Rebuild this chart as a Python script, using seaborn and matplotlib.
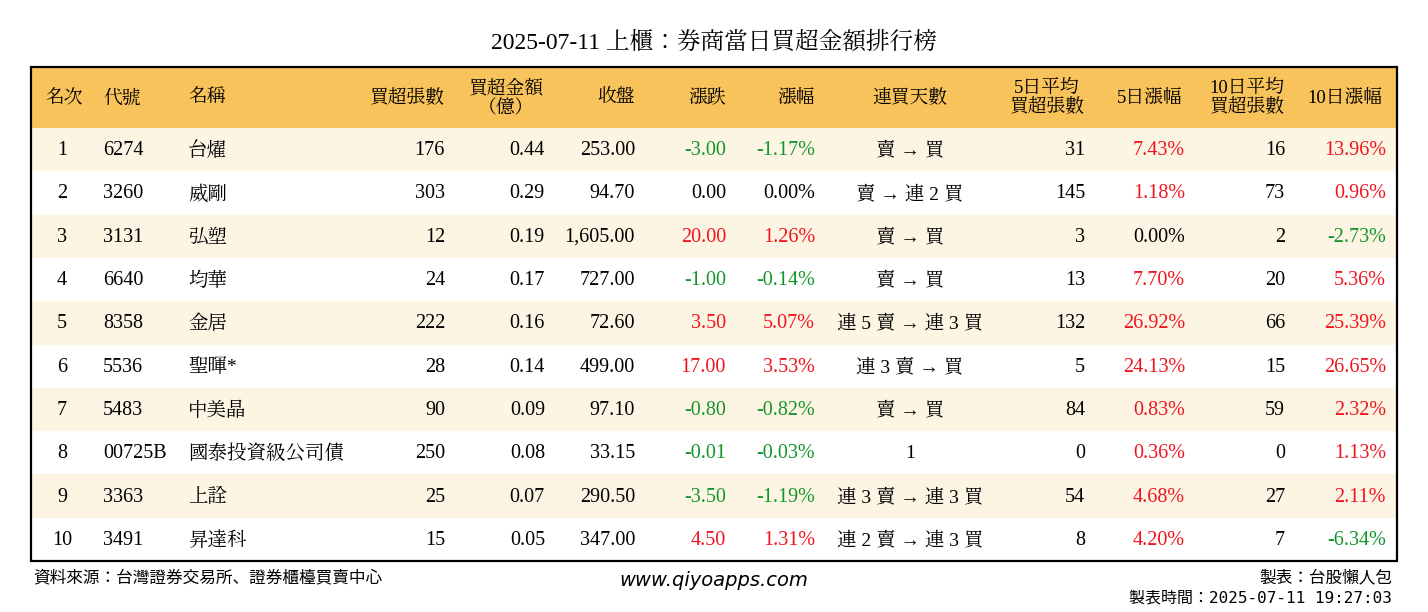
import matplotlib
matplotlib.use("Agg")
import matplotlib.pyplot as plt
import matplotlib.font_manager as fm
import seaborn as sns
import numpy as np
from matplotlib.patches import Rectangle
from matplotlib.colors import ListedColormap

rank = [1,2,3,4,5,6,7,8,9,10]
codes = ["6274","3260","3131","6640","8358","5536","5483","00725B","3363","3491"]
names = ["台燿","威剛","弘塑","均華","金居","聖暉*","中美晶","國泰投資級公司債","上詮","昇達科"]
buy_lots = [176,303,12,24,222,28,90,250,25,15]
buy_amt = [0.44,0.29,0.19,0.17,0.16,0.14,0.09,0.08,0.07,0.05]
close = [253.00,94.70,1605.00,727.00,72.60,499.00,97.10,33.15,290.50,347.00]
change = [-3.00,0.00,20.00,-1.00,3.50,17.00,-0.80,-0.01,-3.50,4.50]
pct = [-1.17,0.00,1.26,-0.14,5.07,3.53,-0.82,-0.03,-1.19,1.31]
streak = ["賣 → 買","賣 → 連 2 買","賣 → 買","賣 → 買","連 5 賣 → 連 3 買","連 3 賣 → 買","賣 → 買","1","連 3 賣 → 連 3 買","連 2 賣 → 連 3 買"]
avg5 = [31,145,3,13,132,5,84,0,54,8]
pct5 = [7.43,1.18,0.00,7.70,26.92,24.13,0.83,0.36,4.68,4.20]
avg10 = [16,73,2,20,66,15,59,0,27,7]
pct10 = [13.96,0.96,-2.73,5.36,25.39,26.65,2.32,1.13,2.11,-6.34]

def reg(path, fallback):
    try:
        fm.fontManager.addfont(path)
        return fm.FontProperties(fname=path).get_name()
    except Exception:
        return fallback
SERIF_CJK = reg("/usr/share/fonts/opentype/noto/NotoSerifCJK-Regular.ttc", "Noto Sans CJK TC")
SANS_CJK = reg("/usr/share/fonts/opentype/noto/NotoSansCJK-Regular.ttc", "Noto Sans CJK TC")

W, H = 1428, 612
FONT = ["Liberation Serif", SERIF_CJK]
MONO = ["DejaVu Sans Mono", SANS_CJK]
fig = plt.figure(figsize=(W/100, H/100), dpi=100)
fig.patch.set_facecolor("white")

L, R, T0, HB, B = 31, 1397, 67, 128, 561
axh = fig.add_axes([L/W, 1-B/H, (R-L)/W, (B-HB)/H])
stripe = np.array([[1 if i % 2 == 0 else 0] for i in range(10)])
sns.heatmap(stripe, ax=axh, cmap=ListedColormap(["#ffffff", "#fdf5e3"]), cbar=False,
            xticklabels=False, yticklabels=False, linewidths=0)
axh.set_axis_off()

ax = fig.add_axes([0, 0, 1, 1])
ax.set_xlim(0, W); ax.set_ylim(H, 0); ax.set_axis_off(); ax.patch.set_alpha(0)
ax.add_patch(Rectangle((L, T0), R-L, HB-T0, facecolor="#f9c35c", edgecolor="none"))
ax.add_patch(Rectangle((L, T0), R-L, B-T0, facecolor="none", edgecolor="black", lw=1.6))

ax.text(W/2, 43, "2025-07-11 上櫃：券商當日買超金額排行榜", ha="center", va="center", fontsize=17, family=FONT)

hy = (T0+HB)/2 + 1
hs = 13.5
heads = [(45,"名次","left"),(103,"代號","left"),(188,"名稱","left"),(445,"買超張數","right"),
         (506,"買超金額\n（億）","center"),(635,"收盤","right"),(707,"漲跌","center"),(796,"漲幅","center"),
         (910,"連買天數","center"),(1047,"5日平均\n買超張數","center"),(1150,"5日漲幅","center"),
         (1247,"10日平均\n買超張數","center"),(1345,"10日漲幅","center")]
for x, t, a in heads:
    ax.text(x, hy, t, ha=a, va="center", fontsize=hs, family=FONT, linespacing=1.1)

GREEN, RED = "#14952b", "#f0141e"
def col(v):
    return RED if v > 0 else (GREEN if v < 0 else "black")

rh = (B-HB)/10
fs = 14.5
for i in range(10):
    y = HB + rh*(i+0.5) + 1
    ax.text(62, y, str(rank[i]), ha="center", va="center", fontsize=fs, family=FONT)
    ax.text(103, y, codes[i], ha="left", va="center", fontsize=fs, family=FONT)
    ax.text(188, y, names[i], ha="left", va="center", fontsize=fs-0.5, family=FONT)
    ax.text(445, y, f"{buy_lots[i]:,}", ha="right", va="center", fontsize=fs, family=FONT)
    ax.text(545, y, f"{buy_amt[i]:.2f}", ha="right", va="center", fontsize=fs, family=FONT)
    ax.text(635, y, f"{close[i]:,.2f}", ha="right", va="center", fontsize=fs, family=FONT)
    ax.text(726, y, f"{change[i]:.2f}", ha="right", va="center", fontsize=fs, family=FONT, color=col(change[i]))
    ax.text(815, y, f"{pct[i]:.2f}%", ha="right", va="center", fontsize=fs, family=FONT, color=col(pct[i]))
    ax.text(910, y, streak[i], ha="center", va="center", fontsize=fs-0.5, family=FONT)
    ax.text(1085, y, f"{avg5[i]:,}", ha="right", va="center", fontsize=fs, family=FONT)
    ax.text(1185, y, f"{pct5[i]:.2f}%", ha="right", va="center", fontsize=fs, family=FONT, color=col(pct5[i]))
    ax.text(1285, y, f"{avg10[i]:,}", ha="right", va="center", fontsize=fs, family=FONT)
    ax.text(1386, y, f"{pct10[i]:.2f}%", ha="right", va="center", fontsize=fs, family=FONT, color=col(pct10[i]))

ax.text(33, 577, "資料來源：台灣證券交易所、證券櫃檯買賣中心", ha="left", va="center", fontsize=12, family=MONO)
ax.text(714, 580, "www.qiyoapps.com", ha="center", va="center", fontsize=14, style="italic", family=["DejaVu Sans"])
ax.text(1392, 577, "製表：台股懶人包", ha="right", va="center", fontsize=12, family=MONO)
ax.text(1392, 598, "製表時間：2025-07-11 19:27:03", ha="right", va="center", fontsize=11.5, family=MONO)

fig.savefig("out.png", dpi=100, facecolor="white")
